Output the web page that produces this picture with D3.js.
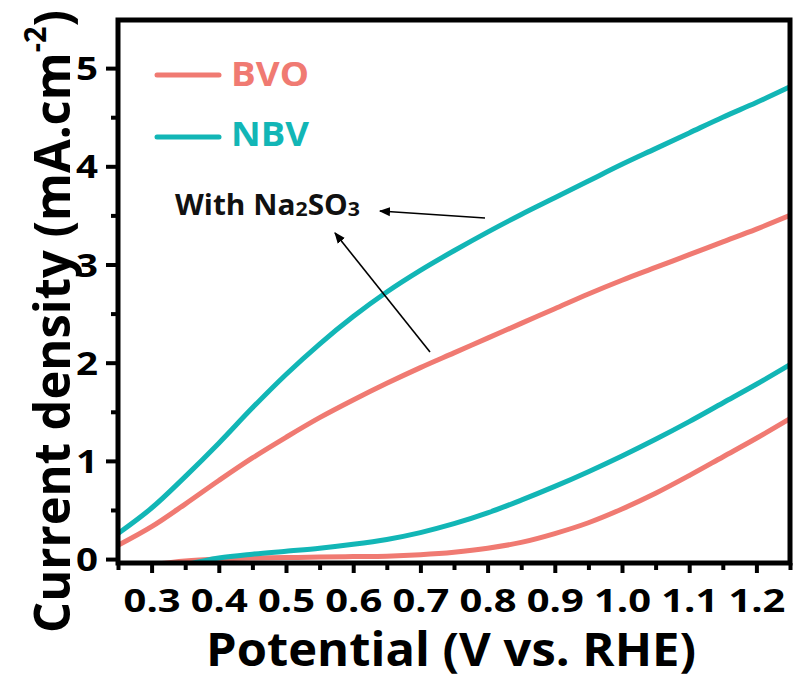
<!DOCTYPE html>
<html>
<head>
<meta charset="utf-8">
<script src="https://cdn.jsdelivr.net/npm/d3@7"></script>
<style>
  body { margin: 0; background: #fff; }
  text { font-family: "Open Sans", sans-serif; font-weight: 700; }
</style>
</head>
<body>
<div id="root"></div>
<script>
// potentials (V vs RHE)
const potential = [0.25, 0.30, 0.35, 0.40, 0.45, 0.50, 0.55, 0.60, 0.65, 0.70, 0.75,
  0.80, 0.85, 0.90, 0.95, 1.00, 1.05, 1.10, 1.15, 1.20, 1.25];

// with Na2SO3
const nbvSulfite = [0.26, 0.52, 0.84, 1.18, 1.54, 1.88, 2.19, 2.47, 2.72, 2.94, 3.14,
  3.33, 3.51, 3.68, 3.85, 4.02, 4.18, 4.34, 4.50, 4.65, 4.81];
const bvoSulfite = [0.14, 0.33, 0.56, 0.80, 1.03, 1.24, 1.44, 1.62, 1.79, 1.95, 2.10,
  2.25, 2.40, 2.55, 2.70, 2.84, 2.97, 3.10, 3.23, 3.36, 3.50];

// without sulfite (null = off scale)
const nbvPlain = [null, null, -0.06, 0.01, 0.05, 0.08, 0.11, 0.15, 0.20, 0.27, 0.36,
  0.47, 0.60, 0.74, 0.89, 1.05, 1.22, 1.40, 1.59, 1.78, 1.98];
const bvoPlain = [null, -0.06, -0.02, 0.00, 0.01, 0.015, 0.02, 0.025, 0.03, 0.045, 0.07,
  0.11, 0.17, 0.26, 0.37, 0.51, 0.67, 0.85, 1.04, 1.23, 1.43];

const xTicks = [0.3, 0.4, 0.5, 0.6, 0.7, 0.8, 0.9, 1.0, 1.1, 1.2];
const yTicks = [0, 1, 2, 3, 4, 5];
const legendNames = ["BVO", "NBV"];

const salmon = "#f07a72", teal = "#12b6b6";

const W = 794, H = 681;
const mLeft = 118, mTop = 20, mRight = 790, mBottom = 563;

const xScale = d3.scaleLinear().domain([0.25, 1.25]).range([mLeft, mRight]);
const yScale = d3.scaleLinear().domain([-0.04, 5.49]).range([mBottom, mTop]);

const svg = d3.select("#root").append("svg").attr("width", W).attr("height", H);

svg.append("clipPath").attr("id", "plot")
  .append("rect").attr("x", mLeft).attr("y", mTop).attr("width", mRight - mLeft).attr("height", mBottom - mTop);

const series = [
  { vals: bvoPlain, color: salmon },
  { vals: nbvPlain, color: teal },
  { vals: bvoSulfite, color: salmon },
  { vals: nbvSulfite, color: teal }
];

const line = d3.line()
  .defined(d => d[1] !== null)
  .x(d => xScale(d[0])).y(d => yScale(d[1]))
  .curve(d3.curveCatmullRom.alpha(0.5));

svg.append("g").attr("clip-path", "url(#plot)")
  .selectAll("path").data(series).enter()
  .append("path")
    .attr("d", s => line(potential.map((p, i) => [p, s.vals[i]])))
    .attr("fill", "none").attr("stroke", s => s.color).attr("stroke-width", 5)
    .attr("stroke-linejoin", "round");

// axes
const isMajorX = d => xTicks.some(t => Math.abs(t - d) < 1e-6);
const xAxis = svg.append("g").attr("transform", "translate(0," + mBottom + ")")
  .call(d3.axisBottom(xScale).tickValues(d3.range(0.25, 1.2501, 0.05)).tickSize(10)
    .tickFormat(d => isMajorX(d) ? d.toFixed(1) : ""));
xAxis.select(".domain").remove();
xAxis.selectAll("line").attr("stroke", "#000").attr("stroke-width", 4)
  .attr("y2", (d, i) => i % 2 ? 10 : 7);
xAxis.selectAll("text").filter(d => !isMajorX(d)).remove();
xAxis.selectAll("text").attr("y", 49).attr("dy", 0)
  .attr("font-size", 33).attr("fill", "#000")
  .attr("textLength", 57).attr("lengthAdjust", "spacingAndGlyphs");

const yAxis = svg.append("g").attr("transform", "translate(" + mLeft + ",0)")
  .call(d3.axisLeft(yScale).tickValues(d3.range(0, 5.01, 0.5)).tickSize(10)
    .tickFormat(d => Number.isInteger(d) ? d : ""));
yAxis.select(".domain").remove();
yAxis.selectAll("line").attr("stroke", "#000").attr("stroke-width", 4)
  .attr("x2", (d, i) => i % 2 ? -7 : -12);
yAxis.selectAll("text").filter(d => !yTicks.includes(d)).remove();
yAxis.selectAll("text").attr("x", -20).attr("dy", "0.36em")
  .attr("font-size", 32).attr("fill", "#000")
  .attr("textLength", 22).attr("lengthAdjust", "spacingAndGlyphs");

// frame
svg.append("rect").attr("x", mLeft).attr("y", mTop)
  .attr("width", mRight - mLeft).attr("height", mBottom - mTop)
  .attr("fill", "none").attr("stroke", "#000").attr("stroke-width", 5);

// axis titles
svg.append("text").attr("x", 451).attr("y", 666).attr("text-anchor", "middle")
  .attr("font-size", 46).attr("fill", "#000")
  .attr("textLength", 490).attr("lengthAdjust", "spacingAndGlyphs")
  .text("Potential (V vs. RHE)");

const yt = svg.append("text").attr("transform", "translate(70,633) rotate(-90)")
  .attr("font-size", 51).attr("fill", "#000")
  .attr("textLength", 623).attr("lengthAdjust", "spacingAndGlyphs");
yt.append("tspan").text("Current density (mA.cm");
yt.append("tspan").attr("font-size", 30).attr("dy", -24).text("-2");
yt.append("tspan").attr("dy", 24).text(")");

// legend
const legend = svg.append("g");
legend.selectAll("line").data(legendNames).enter().append("line")
  .attr("x1", 157).attr("x2", 219)
  .attr("y1", (d, i) => 75 + i * 62).attr("y2", (d, i) => 75 + i * 62)
  .attr("stroke", (d, i) => i ? teal : salmon).attr("stroke-width", 5)
  .attr("stroke-linecap", "round");
legend.selectAll("text").data(legendNames).enter().append("text")
  .attr("x", 231).attr("y", (d, i) => 86 + i * 60)
  .attr("font-size", 34).attr("fill", (d, i) => i ? teal : salmon)
  .attr("textLength", 78).attr("lengthAdjust", "spacingAndGlyphs")
  .text(d => d);

// annotation
const note = svg.append("text").attr("x", 175).attr("y", 215)
  .attr("font-size", 28).attr("fill", "#111")
  .attr("textLength", 185).attr("lengthAdjust", "spacingAndGlyphs");
note.append("tspan").text("With Na");
note.append("tspan").attr("font-size", 20).attr("dy", 1).text("2");
note.append("tspan").attr("dy", -1).text("SO");
note.append("tspan").attr("font-size", 20).attr("dy", 1).text("3");

svg.append("defs").append("marker").attr("id", "head")
  .attr("viewBox", "0 0 10 10").attr("refX", 9).attr("refY", 5)
  .attr("markerWidth", 7).attr("markerHeight", 7).attr("orient", "auto")
  .append("path").attr("d", "M0,1 L10,5 L0,9 Z").attr("fill", "#000");

svg.append("line").attr("x1", 485).attr("y1", 218).attr("x2", 380).attr("y2", 211)
  .attr("stroke", "#000").attr("stroke-width", 1.6).attr("marker-end", "url(#head)");
svg.append("line").attr("x1", 430).attr("y1", 352).attr("x2", 335).attr("y2", 233)
  .attr("stroke", "#000").attr("stroke-width", 1.6).attr("marker-end", "url(#head)");
</script>
</body>
</html>
